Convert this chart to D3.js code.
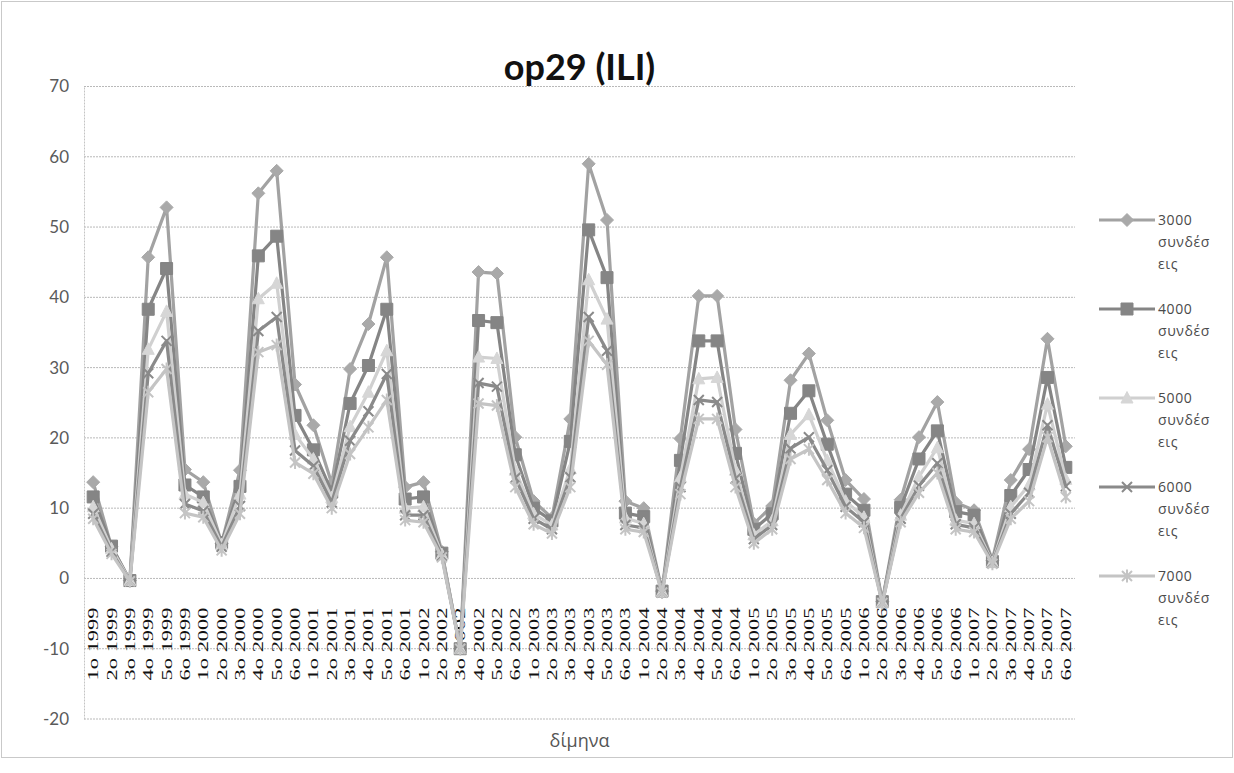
<!DOCTYPE html>
<html>
<head>
<meta charset="utf-8">
<script src="https://cdn.jsdelivr.net/npm/d3@7"></script>
<style>
  html, body { margin: 0; padding: 0; background: #fff; }
  svg { display: block; }
</style>
</head>
<body>
<svg id="chart" width="1234" height="773"></svg>
<script>
// ---- data ----
const periods = ["1ο", "2ο", "3ο", "4ο", "5ο", "6ο"];
const years = [1999, 2000, 2001, 2002, 2003, 2004, 2005, 2006, 2007];
const categories = years.flatMap(y => periods.map(p => `${p} ${y}`));

const seriesNames = ["3000 συνδέσεις", "4000 συνδέσεις", "5000 συνδέσεις", "6000 συνδέσεις", "7000 συνδέσεις"];

const conn3000 = [13.7, 4.5, -0.3, 45.7, 52.8, 15.5, 13.7, 5.0, 15.4, 54.8, 58.0, 27.6,
  21.8, 13.5, 29.8, 36.2, 45.7, 13.0, 13.7, 3.8, -10.0, 43.6, 43.4, 20.1,
  11.0, 8.6, 22.7, 59.0, 51.0, 11.0, 10.0, -1.8, 19.9, 40.2, 40.2, 21.2,
  7.8, 10.3, 28.2, 32.0, 22.5, 14.0, 11.3, -3.3, 11.2, 20.1, 25.1, 10.8,
  9.7, 2.6, 14.0, 18.4, 34.1, 18.8];
const conn4000 = [11.6, 4.6, -0.3, 38.3, 44.1, 13.3, 11.6, 5.1, 13.1, 45.9, 48.7, 23.2,
  18.3, 12.3, 24.9, 30.3, 38.3, 11.3, 11.6, 3.6, -10.0, 36.7, 36.4, 17.6,
  10.0, 8.2, 19.5, 49.6, 42.8, 9.3, 8.8, -1.8, 16.8, 33.8, 33.8, 17.8,
  7.0, 9.2, 23.5, 26.7, 19.1, 12.0, 9.7, -3.3, 10.1, 17.0, 21.0, 9.5,
  9.0, 2.4, 11.8, 15.5, 28.6, 15.8];
const conn5000 = [10.2, 4.2, -0.3, 32.6, 38.0, 12.0, 10.8, 4.8, 12.0, 39.8, 42.0, 20.5,
  17.0, 11.5, 21.6, 26.5, 32.4, 10.0, 10.2, 3.4, -10.0, 31.5, 31.3, 15.4,
  9.2, 7.6, 15.6, 42.5, 36.9, 8.6, 7.8, -1.9, 14.4, 28.4, 28.6, 15.4,
  6.2, 8.2, 20.5, 23.3, 16.8, 11.0, 8.7, -3.4, 9.0, 14.5, 18.6, 8.3,
  7.8, 2.3, 10.2, 13.3, 24.8, 14.1];
const conn6000 = [9.2, 3.8, -0.4, 29.2, 33.8, 10.6, 9.6, 4.5, 10.3, 35.2, 37.2, 18.2,
  16.0, 10.8, 19.6, 23.8, 29.1, 9.0, 9.0, 3.2, -10.0, 27.8, 27.3, 14.3,
  8.5, 7.0, 14.4, 37.2, 32.4, 7.6, 7.2, -2.0, 13.0, 25.4, 25.1, 14.2,
  5.6, 7.6, 18.5, 20.1, 15.4, 10.2, 8.0, -3.5, 8.5, 13.2, 16.4, 7.7,
  7.2, 2.2, 9.2, 12.2, 21.8, 13.1];
const conn7000 = [8.5, 3.5, -0.4, 26.5, 29.8, 9.3, 8.7, 4.0, 9.2, 32.2, 33.2, 16.5,
  14.9, 10.0, 17.7, 21.5, 25.4, 8.3, 8.0, 3.0, -10.0, 24.9, 24.6, 13.0,
  7.7, 6.4, 13.0, 33.8, 30.4, 7.0, 6.6, -2.0, 12.0, 22.7, 22.7, 13.0,
  5.0, 7.0, 17.0, 18.4, 14.0, 9.3, 7.2, -3.5, 8.0, 12.2, 15.0, 7.0,
  6.6, 2.1, 8.5, 11.0, 20.1, 11.6];

const yTicks = [-20, -10, 0, 10, 20, 30, 40, 50, 60, 70];
const chartTitle = "op29 (ILI)";
const xTitle = "δίμηνα";

// ---- styles ----
const seriesValues = [conn3000, conn4000, conn5000, conn6000, conn7000];
const lineColors   = ["#a2a2a2", "#858585", "#d0d0d0", "#8a8a8a", "#c4c4c4"];
const markerColors = ["#a9a9a9", "#858585", "#d6d6d6", "#8a8a8a", "#c4c4c4"];
const markerKinds  = ["diamond", "square", "triangle", "x", "star"];

const svg = d3.select("#chart");
const W = 1234, H = 773;
const plot = { left: 84, right: 1075, top: 86.5, bottom: 719 };

svg.append("rect").attr("x", 0).attr("y", 0).attr("width", W).attr("height", H).attr("fill", "#fff");
svg.append("rect").attr("x", 1.5).attr("y", 1.5).attr("width", W - 3).attr("height", 756)
  .attr("fill", "none").attr("stroke", "#c9c9c9").attr("stroke-width", 1);

const x = d3.scaleBand().domain(categories).range([plot.left, plot.right]);
const y = d3.scaleLinear().domain([-20, 70]).range([plot.bottom, plot.top]);
const cx = c => x(c) + x.bandwidth() / 2;

// gridlines
svg.append("g").selectAll("line").data(yTicks).join("line")
  .attr("x1", plot.left).attr("x2", plot.right)
  .attr("y1", d => y(d)).attr("y2", d => y(d))
  .attr("stroke", "#b9b9b9").attr("stroke-width", 1).attr("stroke-dasharray", "2,1");

// value axis
const yAxis = svg.append("g").attr("transform", `translate(${plot.left},0)`)
  .call(d3.axisLeft(y).tickValues(yTicks).tickSize(0).tickPadding(15).tickFormat(d => String(d)));
yAxis.select(".domain").attr("stroke", "#c4c4c4").attr("stroke-dasharray", "2,1");
yAxis.selectAll("text").attr("font-family", "Lato, 'Open Sans', sans-serif")
  .attr("font-size", 17).attr("fill", "#5a5a5a");

// category axis labels (next to the 0 line)
const xLab = svg.append("g");
xLab.selectAll("text").data(categories).join("text")
  .attr("transform", d => `translate(${cx(d) + 5},${y(0) + 29}) rotate(-90)`)
  .attr("text-anchor", "end")
  .attr("font-family", "'Liberation Serif', 'DejaVu Serif', serif")
  .attr("font-size", 15)
  .attr("fill", "#111")
  .attr("textLength", 73)
  .attr("lengthAdjust", "spacingAndGlyphs")
  .text(d => d);

// marker shapes
function markerPath(kind) {
  switch (kind) {
    case "diamond": return "M0,-6.5L6.5,0L0,6.5L-6.5,0Z";
    case "square": return "M-6,-6H6V6H-6Z";
    case "triangle": return "M0,-6.5L6,5H-6Z";
    case "x": return "M-5,-5L5,5M-5,5L5,-5";
    case "star": return "M-5,-5L5,5M-5,5L5,-5M0,-6.5V6.5";
  }
}
const isStroke = k => k === "x" || k === "star";

const line = d3.line().x(d => cx(d.c)).y(d => y(d.v));

seriesValues.forEach((vals, s) => {
  const pts = vals.map((v, i) => ({ c: categories[i], v }));
  const g = svg.append("g");
  g.append("path").datum(pts).attr("d", line)
    .attr("fill", "none").attr("stroke", lineColors[s]).attr("stroke-width", 3.2)
    .attr("stroke-linejoin", "round").attr("stroke-linecap", "round");
  g.selectAll("path.m").data(pts).join("path").attr("class", "m")
    .attr("transform", d => `translate(${cx(d.c)},${y(d.v)})`)
    .attr("d", markerPath(markerKinds[s]))
    .attr("fill", isStroke(markerKinds[s]) ? "none" : markerColors[s])
    .attr("stroke", markerColors[s])
    .attr("stroke-width", isStroke(markerKinds[s]) ? 2 : 1);
});

// legend
const leg = svg.append("g");
seriesNames.forEach((name, s) => {
  const cy = 220 + 89 * s;
  leg.append("line").attr("x1", 1099).attr("x2", 1155).attr("y1", cy).attr("y2", cy)
    .attr("stroke", lineColors[s]).attr("stroke-width", 3.2);
  leg.append("path").attr("transform", `translate(1127,${cy})`).attr("d", markerPath(markerKinds[s]))
    .attr("fill", isStroke(markerKinds[s]) ? "none" : markerColors[s])
    .attr("stroke", markerColors[s]).attr("stroke-width", isStroke(markerKinds[s]) ? 2 : 1);
  const [num, word] = name.split(" ");
  const parts = [num, word.slice(0, 6), word.slice(6)];
  parts.forEach((t, k) => {
    leg.append("text").attr("x", 1158).attr("y", cy + 22 * k)
      .attr("dy", "0.35em")
      .attr("font-family", "'Open Sans', sans-serif").attr("font-size", 14)
      .attr("letter-spacing", 0.6)
      .attr("fill", "#4a4a4a").text(t);
  });
});

// titles
svg.append("text").attr("x", (plot.left + plot.right) / 2).attr("y", 80)
  .attr("text-anchor", "middle").attr("font-family", "Lato, 'Open Sans', sans-serif")
  .attr("font-weight", "bold").attr("font-size", 36).attr("fill", "#111").text(chartTitle);
svg.append("text").attr("x", (plot.left + plot.right) / 2).attr("y", 747)
  .attr("text-anchor", "middle").attr("font-family", "'Open Sans', sans-serif")
  .attr("font-size", 18).attr("fill", "#555").text(xTitle);
</script>
</body>
</html>
